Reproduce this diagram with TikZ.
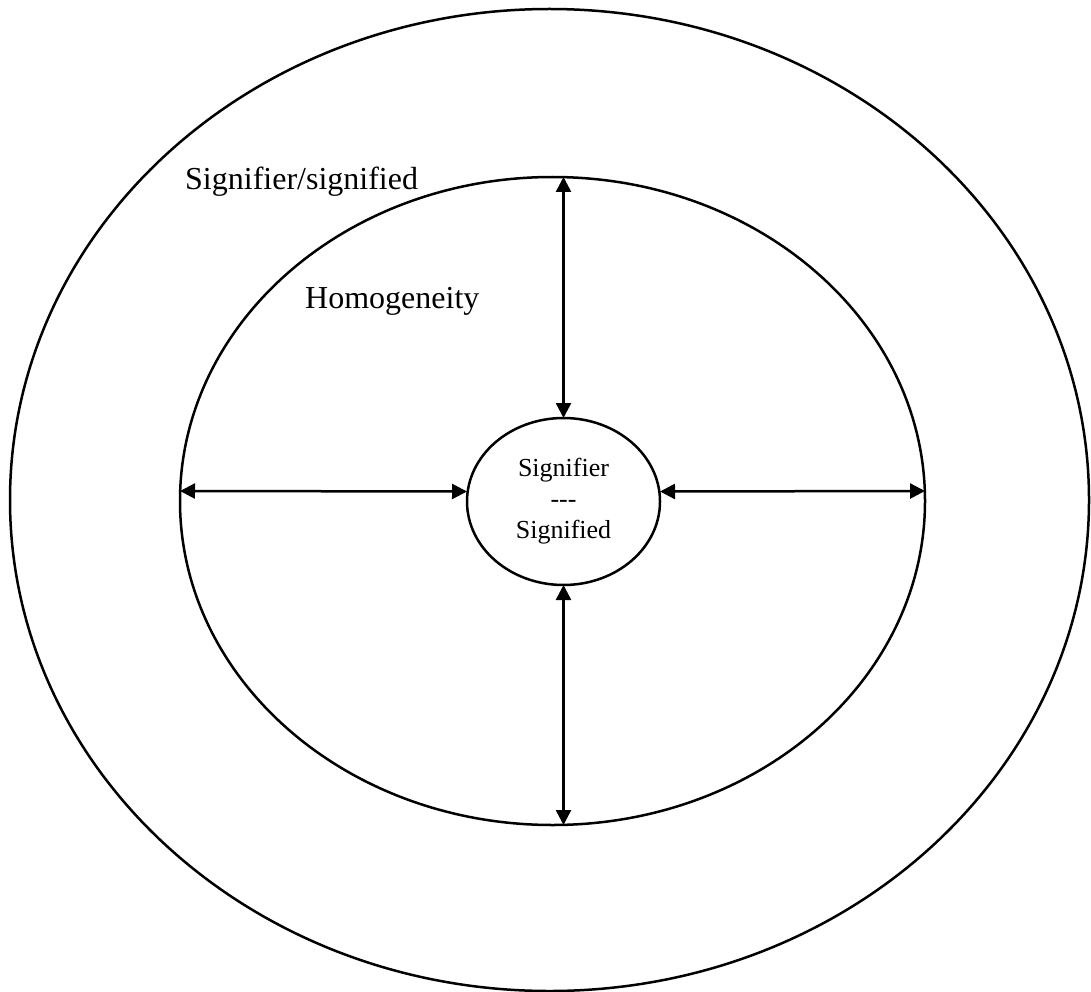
\documentclass[tikz,border=0pt]{standalone}
\usepackage{fontspec}
\setmainfont{Liberation Serif}
\usetikzlibrary{shapes.geometric,arrows.meta}

\tikzset{
  ring/.style={draw, ellipse, line width=2.5pt, inner sep=0pt, outer sep=0pt},
  link/.style={line width=2.5pt, {Triangle[length=15pt,width=15pt]}-{Triangle[length=15pt,width=15pt]}},
  label/.style={anchor=base west, inner sep=0pt, font=\fontsize{32}{38}\selectfont}
}

\begin{document}
\begin{tikzpicture}[x=1pt, y=-1pt]
  \useasboundingbox (0,0) rectangle (1091,992);

  % outer field and inner field
  \node[ring, minimum width=1079pt, minimum height=982pt] (outer) at (549.5,500) {};
  \node[ring, minimum width=745pt, minimum height=648pt] (inner) at (552.5,501) {};

  % the sign at the centre
  \node[ring, minimum width=193pt, minimum height=167pt, align=center,
        font=\fontsize{26}{31}\selectfont] (sign) at (563.5,501.5)
        {Signifier\\\mbox{-}\mbox{-}\mbox{-}\\Signified};

  % labels of the two fields
  \node[label] (outerlabel) at (185,190) {Signifier/signified};
  \node[label] (innerlabel) at (305,308) {Homogeneity};

  % double-headed links between the fields and the sign
  \draw[link] (inner.north -| sign.north) -- (sign.north);
  \draw[link] (sign.south) -- (sign.south |- inner.south);
  \draw[link] ([yshift=10pt]inner.west) -- ([yshift=10pt]sign.west);
  \draw[link] ([yshift=10pt]sign.east) -- ([yshift=10pt]inner.east);
\end{tikzpicture}
\end{document}
